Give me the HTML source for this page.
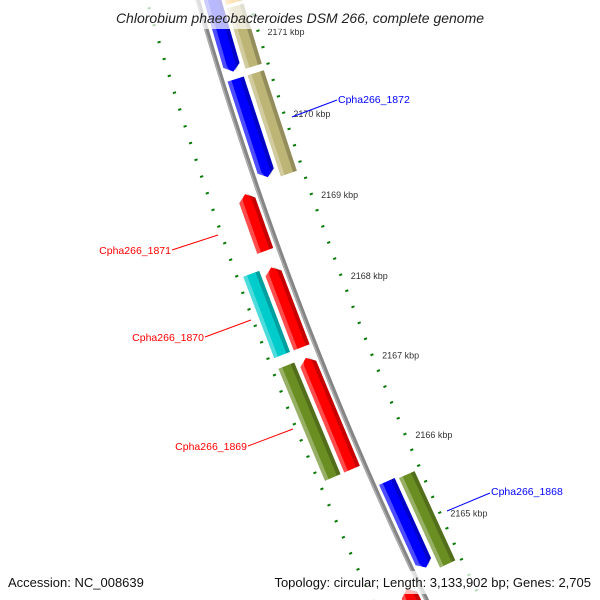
<!DOCTYPE html>
<html><head><meta charset="utf-8"><style>
html,body{margin:0;padding:0;background:#fff;overflow:hidden;width:600px;height:600px;}
svg{display:block;font-family:"Liberation Sans",sans-serif;}
</style></head><body>
<svg id="map" width="600" height="600" viewBox="0 0 600 600" xmlns="http://www.w3.org/2000/svg" overflow="hidden">
<rect width="600" height="600" fill="#fff"/>
<g id="rulers"></g>
<g id="backbone"></g>
<g id="genes"></g>
<g id="ticklabels"></g>
<g font-size="10.5">
  <line x1="292" y1="117" x2="337" y2="100" stroke="#0000ff" stroke-width="1"/>
  <text x="338" y="103" fill="#0000ff">Cpha266_1872</text>
  <line x1="172" y1="250" x2="218" y2="235" stroke="#ff0000" stroke-width="1"/>
  <text x="171" y="254" fill="#ff0000" text-anchor="end">Cpha266_1871</text>
  <line x1="205" y1="337" x2="251" y2="320" stroke="#ff0000" stroke-width="1"/>
  <text x="204" y="341" fill="#ff0000" text-anchor="end">Cpha266_1870</text>
  <line x1="248" y1="446" x2="293" y2="429" stroke="#ff0000" stroke-width="1"/>
  <text x="247" y="450" fill="#ff0000" text-anchor="end">Cpha266_1869</text>
  <line x1="447" y1="511" x2="490" y2="493" stroke="#0000ff" stroke-width="1"/>
  <text x="491" y="495" fill="#0000ff">Cpha266_1868</text>
</g>
<rect x="0" y="0" width="600" height="29" fill="#fff" fill-opacity="0.72"/>
<text x="300" y="23" text-anchor="middle" font-size="14" font-style="italic" fill="#222">Chlorobium phaeobacteroides DSM 266, complete genome</text>
<rect x="0" y="571" width="600" height="23" fill="#fff" fill-opacity="0.72"/>
<text x="8" y="587" font-size="13" fill="#111">Accession: NC_008639</text>
<text x="591" y="587" font-size="13" fill="#111" text-anchor="end">Topology: circular; Length: 3,133,902 bp; Genes: 2,705</text>
</svg>
<script>
const geneStart = [2172.5, 2172.5, 2171.45, 2170.64, 2170.64, 2168.66, 2168.47, 2167.48, 2167.35, 2165.97, 2165.68, 2165.66, 2163.5];
const geneEnd   = [2171.49, 2170.73, 2170.72, 2169.45, 2169.41, 2169.35, 2167.48, 2168.46, 2165.97, 2167.35, 2164.59, 2164.52, 2164.46];
const geneTrack = ["R2","R1","R2","R1","R2","L1","L2","L1","L2","L1","R1","R2","L1"];
const geneColor = ["#ff9900","#0000ff","#bdb576","#0000ff","#bdb576","#ff0000","#00cccc","#ff0000","#6b8e23","#ff0000","#0000ff","#6b8e23","#ff0000"];
const geneArrow = [false,true,false,true,false,true,false,true,false,true,true,false,true];
const tickKbp = [2165,2166,2167,2168,2169,2170,2171];
const tickLabels = ["2165 kbp","2166 kbp","2167 kbp","2168 kbp","2169 kbp","2170 kbp","2171 kbp"];

const NS = "http://www.w3.org/2000/svg";
const CX = 3897, CY = -1067, R = 3850;
const trackR = {R1:[3828,3845], R2:[3807,3824], L1:[3855,3872], L2:[3876,3893]};
function ang(g){ return (159.2 + (g - 2168) * 1.295) * Math.PI / 180; }
function pt(g, r){ const a = ang(g); return [CX + r*Math.cos(a), CY + r*Math.sin(a)]; }
function poly(points){ return points.map(p => p[0].toFixed(2)+","+p[1].toFixed(2)).join(" "); }
function mk(tag, attrs, parent){ const e = document.createElementNS(NS, tag); for (const k in attrs) e.setAttribute(k, attrs[k]); parent.appendChild(e); return e; }

const bb = document.getElementById("backbone");
const bbPts = [];
for (let g = 2163.5; g <= 2173; g += 0.1) bbPts.push(pt(g, R));
const bbLine = mk("polyline", {points: poly(bbPts), fill: "none", stroke: "#858585", "stroke-width": 4.5}, bb);


const bbPts2 = [];
for (let g = 2163.5; g <= 2173; g += 0.1) bbPts2.push(pt(g, R + 1.3));
const bbHi = mk("polyline", {points: poly(bbPts2), fill: "none", stroke: "#b0b0b0", "stroke-width": 1.3}, bb);



const rul = document.getElementById("rulers");
const rulerR = [3801, 3899];
for (let i = 0; i <= 50; i++) {
  const g = 2163.5 + i * 0.2;
  const major = (Math.abs(g - Math.round(g)) < 0.01);
  rulerR.forEach((rr) => {
    const half = major ? 4 : 1.6;
    const a = pt(g, rr - half), b = pt(g, rr + half);
    const t = mk("line", {x1: a[0], y1: a[1], x2: b[0], y2: b[1], stroke: "#0a7a0a", "stroke-width": major ? 2.2 : 2}, rul);
    
    
  });
}
const tl = document.getElementById("ticklabels");
tickKbp.forEach((g, i) => {
  const p = pt(g, 3801);
  const t = mk("text", {x: p[0] + 7, y: p[1] - 4, "font-size": 9, fill: "#333"}, tl);
  t.textContent = tickLabels[i];
  
  
});

const gg = document.getElementById("genes");
for (let i = 0; i < geneStart.length; i++) {
  const [r0, r1] = trackR[geneTrack[i]];
  const s = geneStart[i], e = geneEnd[i];
  const dir = e > s ? 1 : -1;
  const headLen = geneArrow[i] ? 0.075 : 0;
  const body = e - dir * headLen;
  const grp = mk("g", {}, gg);
  
  
  function shape(ra, rb, tip) {
    const pts = [pt(s, ra), pt(body, ra)];
    if (geneArrow[i]) pts.push(pt(e, tip));
    pts.push(pt(body, rb), pt(s, rb));
    return pts;
  }
  const mid = (r0 + r1) / 2;
  const base = mk("polygon", {points: poly(shape(r0, r1, mid)), fill: geneColor[i]}, grp);
  
  
  const light = mk("polygon", {points: poly(shape(r1 - 4, r1, Math.min(mid + 2, r1))), fill: "#fff", "fill-opacity": 0.3}, grp);
  
  
  const dark = mk("polygon", {points: poly(shape(r0, r0 + 4, Math.max(mid - 2, r0))), fill: "#000", "fill-opacity": 0.22}, grp);
  
  
}
</script>
</body></html>
